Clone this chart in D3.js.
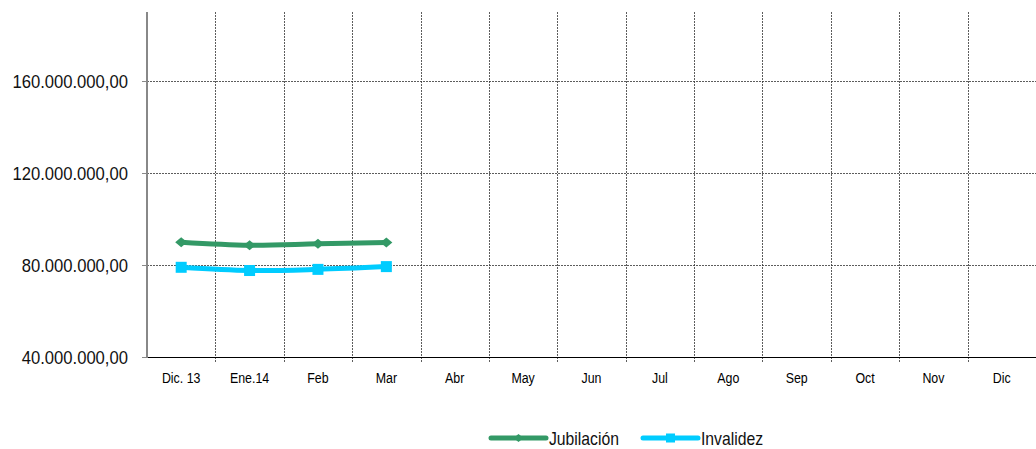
<!DOCTYPE html>
<html>
<head>
<meta charset="utf-8">
<script src="https://cdn.jsdelivr.net/npm/d3@7"></script>
<style>
  body { margin: 0; background: #fff; }
  svg { display: block; font-family: "Liberation Sans", Arial, sans-serif; }
</style>
</head>
<body>
<svg id="chart" width="1036" height="449"></svg>
<script>
const months = ["Dic. 13", "Ene.14", "Feb", "Mar", "Abr", "May", "Jun", "Jul", "Ago", "Sep", "Oct", "Nov", "Dic"];
const jubilacion = [89.9e6, 88.6e6, 89.2e6, 89.8e6];
const invalidez = [79.0e6, 77.6e6, 78.1e6, 79.3e6];
const yTicks = [40e6, 80e6, 120e6, 160e6];

const svg = d3.select("#chart");
const plotLeft = 147, plotRight = 1036, plotTop = 12, plotBottom = 357;

const x = d3.scaleBand().domain(months).range([plotLeft, plotRight]);
const y = d3.scaleLinear().domain([40e6, 190e6]).range([plotBottom, plotTop]);

const fmt = v => d3.format(",.2f")(v).replace(/,/g, "#").replace(".", ",").replace(/#/g, ".");

// horizontal grid
svg.append("g").selectAll("line")
  .data(yTicks.slice(1))
  .join("line")
  .attr("x1", plotLeft).attr("x2", plotRight)
  .attr("y1", d => y(d) + 0.5).attr("y2", d => y(d) + 0.5)
  .attr("stroke", "#333").attr("stroke-width", 0.8)
  .attr("stroke-dasharray", "2,1");

// vertical grid at band boundaries
const bounds = months.slice(1).map(m => x(m));
svg.append("g").selectAll("line")
  .data(bounds)
  .join("line")
  .attr("x1", d => Math.round(d) + 0.5).attr("x2", d => Math.round(d) + 0.5)
  .attr("y1", plotTop).attr("y2", plotBottom + 5)
  .attr("stroke", "#333").attr("stroke-width", 0.8)
  .attr("stroke-dasharray", "2,1");

// x axis
svg.append("line")
  .attr("x1", plotLeft).attr("x2", plotRight)
  .attr("y1", plotBottom + 0.5).attr("y2", plotBottom + 0.5)
  .attr("stroke", "#000").attr("stroke-width", 1);

svg.append("g").selectAll("text")
  .data(months)
  .join("text")
  .attr("transform", d => `translate(${x(d) + x.bandwidth() / 2},383) scale(0.8,1)`)
  .attr("text-anchor", "middle")
  .attr("font-size", 15.5)
  .attr("fill", "#000")
  .text(d => d);

// y axis
svg.append("line")
  .attr("x1", plotLeft).attr("x2", plotLeft)
  .attr("y1", plotTop).attr("y2", plotBottom + 1)
  .attr("stroke", "#888").attr("stroke-width", 2);

svg.append("g").selectAll("line")
  .data(yTicks)
  .join("line")
  .attr("x1", plotLeft - 5).attr("x2", plotLeft)
  .attr("y1", d => y(d) + 0.5).attr("y2", d => y(d) + 0.5)
  .attr("stroke", "#888").attr("stroke-width", 1);

svg.append("g").selectAll("text")
  .data(yTicks)
  .join("text")
  .attr("transform", d => `translate(128,${y(d) + 6.5}) scale(0.9,1)`)
  .attr("text-anchor", "end")
  .attr("font-size", 18.5)
  .attr("fill", "#111")
  .text(fmt);

const line = d3.line()
  .x((d, i) => x(months[i]) + x.bandwidth() / 2)
  .y(d => y(d))
  .curve(d3.curveCatmullRom.alpha(0.5));

const green = "#339966", cyan = "#00ccff";

svg.append("path").datum(jubilacion)
  .attr("d", line).attr("fill", "none")
  .attr("stroke", green).attr("stroke-width", 5);
svg.append("g").selectAll("path")
  .data(jubilacion)
  .join("path")
  .attr("transform", (d, i) => `translate(${x(months[i]) + x.bandwidth() / 2},${y(d)})`)
  .attr("d", "M-6,0L0,-5L6,0L0,5Z")
  .attr("fill", green);

svg.append("path").datum(invalidez)
  .attr("d", line).attr("fill", "none")
  .attr("stroke", cyan).attr("stroke-width", 5);
svg.append("g").selectAll("rect")
  .data(invalidez)
  .join("rect")
  .attr("x", (d, i) => x(months[i]) + x.bandwidth() / 2 - 5.5)
  .attr("y", d => y(d) - 5.5)
  .attr("width", 11).attr("height", 11)
  .attr("fill", cyan);

// legend
const legend = [
  { name: "Jubilación", color: green, x: 491, marker: "diamond" },
  { name: "Invalidez", color: cyan, x: 643, marker: "square" }
];
const lg = svg.append("g").selectAll("g").data(legend).join("g")
  .attr("transform", d => `translate(${d.x},438)`);
lg.append("line")
  .attr("x1", 0).attr("x2", 55).attr("y1", 0).attr("y2", 0)
  .attr("stroke", d => d.color).attr("stroke-width", 5)
  .attr("stroke-linecap", "round");
lg.filter(d => d.marker === "diamond").append("path")
  .attr("d", "M22.5,0L27.5,-4L32.5,0L27.5,4Z").attr("fill", d => d.color);
lg.filter(d => d.marker === "square").append("rect")
  .attr("x", 23).attr("y", -4.5).attr("width", 9).attr("height", 9).attr("fill", d => d.color);
lg.append("text")
  .attr("transform", "translate(58,6.5) scale(0.9,1)")
  .attr("font-size", 17.5).attr("fill", "#111")
  .text(d => d.name);
</script>
</body>
</html>
